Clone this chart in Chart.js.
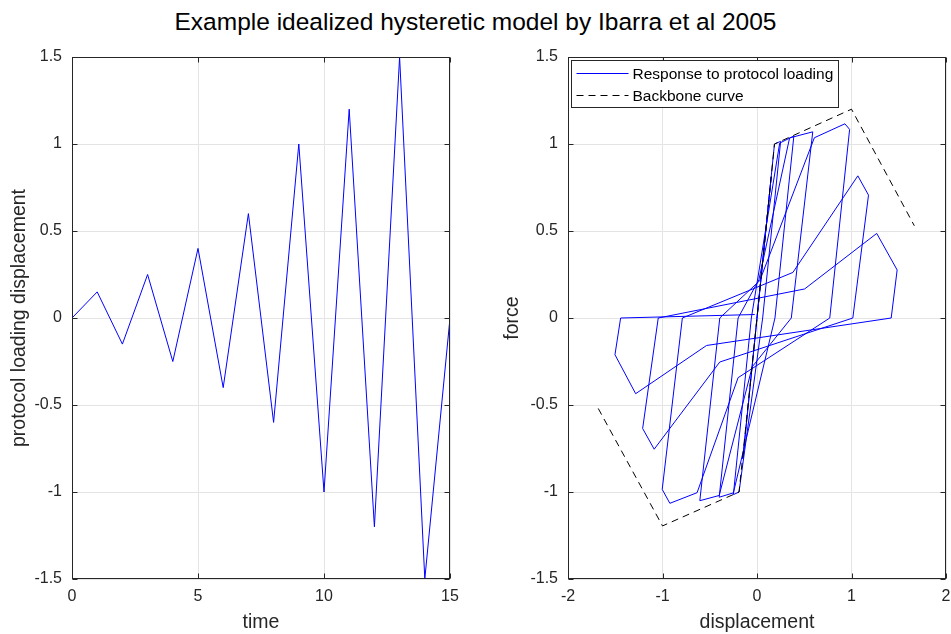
<!DOCTYPE html>
<html>
<head>
<meta charset="utf-8">
<script src="https://cdn.jsdelivr.net/npm/chart.js@4.4.1/dist/chart.umd.min.js"></script>
<style>
  body { margin: 0; background: #fff; }
  #title {
    position: absolute; left: 0; top: 0; width: 951px; height: 44px;
    line-height: 44px; text-align: center; color: #000;
    font-family: "Liberation Sans", Arial, sans-serif; font-size: 24.5px;
  }
  #leftBox { position: absolute; left: 0; top: 0; }
  #rightBox { position: absolute; left: 475px; top: 0; }
</style>
</head>
<body>
<div id="title">Example idealized hysteretic model by Ibarra et al 2005</div>
<div id="leftBox"><canvas id="protocolChart" width="475" height="634"></canvas></div>
<div id="rightBox"><canvas id="hystChart" width="476" height="634"></canvas></div>
<script>
// loading protocol: displacement at each time step
let protocolTime = [0, 1, 2, 3, 4, 5, 6, 7, 8, 9, 10, 11, 12, 13, 14, 15];
let protocolDisp = [0, 0.15, -0.15, 0.25, -0.25, 0.4, -0.4, 0.6, -0.6, 1.0, -1.0, 1.2, -1.2, 1.5, -1.5, 0];

// force-displacement response, vertex by vertex
let responseDisp = [
  0, 0.15, -0.15,
  0.185, 0.25, 0.06, -0.19, -0.25, -0.06,
  0.24, 0.39, 0.19, -0.25, -0.4, -0.2,
  0.02, 0.345, 0.59, 0.363, -0.05, -0.4, -0.605, -0.394,
  0.03, 0.607, 0.93, 0.98, 0.77, -0.2, -0.634, -0.922, -1.003, -0.79,
  0.38, 1.067, 1.18, 1.014, -0.394, -1.088, -1.21, -1.045,
  0.504, 1.267, 1.483, 1.42, -0.534, -1.284, -1.503, -1.443,
  -0.024
];
let responseForce = [
  0, 0.81, -0.81,
  1.0, 1.015, 0, -1.0, -1.015, 0,
  1.005, 1.046, 0, -1.005, -1.03, 0,
  0.22, 1.035, 1.07, 0, -0.28, -1.02, -1.05, 0,
  0.215, 1.036, 1.116, 1.084, 0, -0.343, -1.004, -1.065, -0.985, 0,
  0.262, 0.817, 0.706, 0, -0.253, -0.754, -0.635, 0,
  0.167, 0.486, 0.276, 0, -0.158, -0.435, -0.211, 0,
  0.02
];

// backbone curve
let backboneDisp = [-1.68, -1.0, -0.19, 0, 0.185, 1.0, 1.665];
let backboneForce = [-0.52, -1.195, -1.0, 0, 1.0, 1.2, 0.53];

// tick labels
let timeTicks = [0, 5, 10, 15];
let dispTicks = [-2, -1, 0, 1, 2];
let valueTicks = [-1.5, -1, -0.5, 0, 0.5, 1, 1.5];

const FONT = '"Liberation Sans", Arial, sans-serif';
const INK = '#262626';
Chart.defaults.font.family = FONT;
Chart.defaults.color = INK;

function toPoints(xs, ys) {
  return xs.map((x, i) => ({ x: x, y: ys[i] }));
}

// draw the axes frame with inward tick marks on all four sides
const axesBox = {
  id: 'axesBox',
  afterDatasetsDraw(chart) {
    const { ctx, chartArea: a, scales } = chart;
    const L = Math.round(a.left) + 0.5, R = Math.round(a.right) - 0.5;
    const T = Math.round(a.top) + 0.5, B = Math.round(a.bottom) - 0.5;
    ctx.save();
    ctx.strokeStyle = INK;
    ctx.lineWidth = 1;
    ctx.beginPath();
    scales.x.ticks.forEach(t => {
      const px = Math.round(scales.x.getPixelForValue(t.value)) + 0.5;
      ctx.moveTo(px, B); ctx.lineTo(px, B - 5);
      ctx.moveTo(px, T); ctx.lineTo(px, T + 5);
    });
    scales.y.ticks.forEach(t => {
      const py = Math.round(scales.y.getPixelForValue(t.value)) + 0.5;
      ctx.moveTo(L, py); ctx.lineTo(L + 5, py);
      ctx.moveTo(R, py); ctx.lineTo(R - 5, py);
    });
    ctx.stroke();
    ctx.strokeRect(L, T, R - L, B - T);
    ctx.restore();
  }
};

// boxed legend in the top-left corner of the plot
const legendBox = {
  id: 'legendBox',
  afterDraw(chart) {
    const { ctx, chartArea: a } = chart;
    const x = Math.round(a.left) + 3.5, y = Math.round(a.top) + 3.5;
    const w = 267, h = 47;
    ctx.save();
    ctx.fillStyle = '#fff';
    ctx.fillRect(x, y, w, h);
    ctx.strokeStyle = INK;
    ctx.lineWidth = 1;
    ctx.strokeRect(x, y, w, h);
    ctx.font = '15.5px ' + FONT;
    ctx.textBaseline = 'middle';
    ctx.fillStyle = '#000';
    chart.data.datasets.forEach((ds, i) => {
      const cy = y + 13 + i * 22;
      ctx.beginPath();
      ctx.strokeStyle = ds.borderColor;
      ctx.setLineDash(ds.borderDash || []);
      ctx.moveTo(x + 5, cy);
      ctx.lineTo(x + 57, cy);
      ctx.stroke();
      ctx.setLineDash([]);
      ctx.fillText(ds.label, x + 61, cy + 1);
    });
    ctx.restore();
  }
};

function axisOptions(min, max, ticks, title, size, titlePad, tickPad) {
  return {
    type: 'linear',
    min: min,
    max: max,
    afterBuildTicks: s => { s.ticks = ticks.map(v => ({ value: v })); },
    afterFit: s => {
      // fixed axis band, no extra room for overhanging end labels
      if (s.isHorizontal()) s.height = size; else s.width = size;
      s.paddingLeft = s.paddingRight = s.paddingTop = s.paddingBottom = 0;
    },
    grid: { color: '#e4e4e4', drawTicks: false },
    border: { display: false },
    ticks: { padding: tickPad, font: { size: 16 }, color: INK, callback: v => String(v) },
    title: { display: true, text: title, font: { size: 19.5 }, color: INK, padding: titlePad }
  };
}

new Chart('protocolChart', {
  type: 'scatter',
  data: {
    datasets: [{
      label: 'protocol',
      data: toPoints(protocolTime, protocolDisp),
      showLine: true,
      borderColor: '#0000ff',
      borderWidth: 1,
      pointRadius: 0,
      tension: 0
    }]
  },
  options: {
    responsive: false,
    animation: false,
    devicePixelRatio: 1,
    layout: { padding: { top: 57, right: 25, left: 0, bottom: 0 } },
    plugins: { legend: { display: false }, tooltip: { enabled: false } },
    scales: {
      x: axisOptions(0, 15, timeTicks, 'time', 55, { top: 0, bottom: 0 }, 8),
      y: axisOptions(-1.5, 1.5, valueTicks, 'protocol loading displacement', 72, { top: 8, bottom: 0 }, 10)
    }
  },
  plugins: [axesBox]
});

new Chart('hystChart', {
  type: 'scatter',
  data: {
    datasets: [{
      label: 'Response to protocol loading',
      data: toPoints(responseDisp, responseForce),
      showLine: true,
      borderColor: '#0000ff',
      borderWidth: 1,
      pointRadius: 0,
      tension: 0,
      order: 1
    }, {
      label: 'Backbone curve',
      data: toPoints(backboneDisp, backboneForce),
      showLine: true,
      borderColor: '#000000',
      borderWidth: 1,
      borderDash: [7, 5],
      pointRadius: 0,
      tension: 0,
      order: 0
    }]
  },
  options: {
    responsive: false,
    animation: false,
    devicePixelRatio: 1,
    layout: { padding: { top: 57, right: 5, left: 0, bottom: 0 } },
    plugins: { legend: { display: false }, tooltip: { enabled: false } },
    scales: {
      x: axisOptions(-2, 2, dispTicks, 'displacement', 55, { top: 0, bottom: 0 }, 8),
      y: axisOptions(-1.5, 1.5, valueTicks, 'force', 93, { top: 26, bottom: 0 }, 10)
    }
  },
  plugins: [axesBox, legendBox]
});
</script>
</body>
</html>
